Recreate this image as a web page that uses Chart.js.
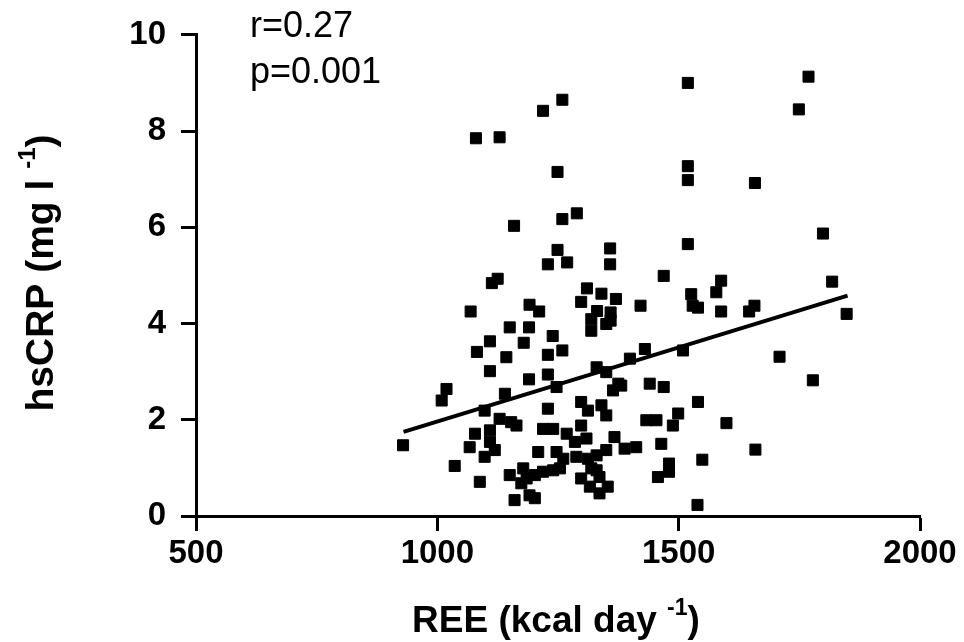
<!DOCTYPE html>
<html>
<head>
<meta charset="utf-8">
<script src="https://cdn.jsdelivr.net/npm/chart.js@4.4.1/dist/chart.umd.min.js"></script>
<style>
  html, body { margin: 0; padding: 0; background: #fff; }
  #wrap { width: 964px; height: 642px; }
</style>
</head>
<body>
<div id="wrap"><canvas id="reeChart" width="964" height="642"></canvas></div>
<script>
// REE (kcal/day) vs hsCRP (mg/l)
const reeValues = [
    1259, 1219, 1080, 1129, 1249, 1159, 1259, 1289, 1249, 1358, 1229, 1269, 1358,
    1519, 1769, 1749, 1519, 1519, 1658, 1799, 1519,
    1113, 1125, 1069, 1191, 1211, 1150, 1190, 1239, 1109, 1179, 1082, 1143, 1229,
    1259, 1109, 1190, 1229, 1019, 1009,
    1310, 1340, 1370, 1298, 1331, 1359, 1319, 1359, 1350, 1319, 1421, 1469,
    1330, 1350, 1399, 1430, 1375, 1440,
    1588, 1578, 1526, 1529, 1540, 1588, 1657, 1646, 1818, 1848, 1509, 1709, 1778, 1469,
    1140, 1098, 1229, 1247, 1298, 1312, 1340, 1350, 1364, 1381,
    1129, 1153, 1164, 1078, 1109, 1109, 1067, 1119, 1098, 1036, 1088,
    1219, 1240, 1268, 1285, 1309, 1298, 1367, 1388, 1412, 1433, 1454, 1350,
    1209, 1247, 1261, 1254, 1288, 1312, 1330, 1319, 1330, 1336, 1298, 1316, 1336, 1353,
    1150, 1178, 1185, 1202, 1219, 1240, 1160, 1191, 1202, 1174, 1457, 929,
    1499, 1488, 1599, 1659, 1549, 1480, 1480, 1539, 1540, 1464
];
const crpValues = [
    8.65, 8.42, 7.85, 7.87, 7.15, 6.03, 6.17, 6.29, 5.53, 5.56, 5.23, 5.27, 5.23,
    9.00, 9.13, 8.45, 7.27, 6.98, 6.92, 5.87, 5.65,
    4.84, 4.93, 4.25, 4.39, 4.25, 3.92, 3.92, 3.74, 3.63, 3.60, 3.41, 3.30, 3.35,
    3.44, 3.01, 2.84, 2.94, 2.64, 2.40,
    4.73, 4.62, 4.51, 4.45, 4.26, 4.23, 4.09, 4.06, 3.99, 3.85, 4.37, 4.99,
    3.09, 2.99, 3.27, 3.47, 2.75, 2.75,
    4.89, 4.65, 4.61, 4.37, 4.33, 4.25, 4.37, 4.25, 4.87, 4.20, 3.44, 3.31, 2.82, 2.68,
    2.54, 2.19, 2.23, 2.68, 2.37, 2.19, 2.30, 2.09, 2.61, 2.71,
    2.02, 1.95, 1.88, 1.71, 1.78, 1.54, 1.43, 1.37, 1.23, 1.04, 0.71,
    1.81, 1.81, 1.71, 1.54, 1.61, 1.88, 1.64, 1.40, 1.43, 1.99, 1.99, 1.37,
    1.33, 1.33, 1.19, 0.99, 1.23, 1.19, 1.26, 0.99, 0.95, 0.81, 0.78, 0.61, 0.47, 0.61,
    0.85, 0.99, 0.78, 0.85, 0.92, 0.95, 0.33, 0.43, 0.37, 0.68, 0.81, 1.47,
    2.13, 1.88, 1.93, 1.38, 1.17, 1.09, 0.92, 0.23, 2.37, 1.50
];

// regression line end points
const fitX = [930, 1850];
const fitY = [1.75, 4.58];

const xTicks = [500, 1000, 1500, 2000];
const yTicks = [0, 2, 4, 6, 8, 10];

const statLines = ['r=0.27', 'p=0.001'];

const points = reeValues.map((x, i) => ({ x: x, y: crpValues[i] }));
const fitPoints = fitX.map((x, i) => ({ x: x, y: fitY[i] }));

const FONT = 'Liberation Sans, Arial, sans-serif';
const tickFont = { family: FONT, size: 33, weight: 'bold' };

// draws "main" + raised "sup" + "end" starting at x, baseline y
function drawSupText(ctx, main, sup, end, size, x, y) {
    ctx.font = 'bold ' + size + 'px ' + FONT;
    const w1 = ctx.measureText(main).width;
    ctx.fillText(main, x, y);
    const supSize = Math.round(size * 0.62);
    ctx.font = 'bold ' + supSize + 'px ' + FONT;
    const w2 = ctx.measureText(sup).width;
    ctx.fillText(sup, x + w1, y - size * 0.45);
    ctx.font = 'bold ' + size + 'px ' + FONT;
    ctx.fillText(end, x + w1 + w2, y);
}

function supTextWidth(ctx, main, sup, end, size) {
    ctx.font = 'bold ' + size + 'px ' + FONT;
    const a = ctx.measureText(main).width + ctx.measureText(end).width;
    ctx.font = 'bold ' + Math.round(size * 0.62) + 'px ' + FONT;
    return a + ctx.measureText(sup).width;
}

// axis titles with superscripts, and the r / p note
const textPlugin = {
    id: 'textPlugin',
    afterDraw(chart) {
        const ctx = chart.ctx;
        ctx.save();
        ctx.fillStyle = '#000';
        ctx.textAlign = 'left';
        ctx.textBaseline = 'alphabetic';

        // x title
        const xw = supTextWidth(ctx, 'REE (kcal day ', '-1', ')', 37);
        drawSupText(ctx, 'REE (kcal day ', '-1', ')', 37, 556 - xw / 2, 632);

        // y title, rotated
        ctx.save();
        ctx.translate(53, 273);
        ctx.rotate(-Math.PI / 2);
        const yw = supTextWidth(ctx, 'hsCRP (mg l ', '-1', ')', 39);
        drawSupText(ctx, 'hsCRP (mg l ', '-1', ')', 39, -yw / 2, 0);
        ctx.restore();

        // stats note
        ctx.font = '36px ' + FONT;
        ctx.fillText(statLines[0], 250, 37);
        ctx.fillText(statLines[1], 250, 83);
        ctx.restore();
    }
};

const ctx = document.getElementById('reeChart').getContext('2d');
new Chart(ctx, {
    type: 'scatter',
    data: {
        datasets: [
            {
                label: 'hsCRP',
                data: points,
                pointStyle: 'rect',
                pointRadius: 7.8,
                backgroundColor: '#000',
                borderColor: '#000',
                borderWidth: 1,
                clip: false
            },
            {
                label: 'fit',
                type: 'line',
                data: fitPoints,
                borderColor: '#000',
                borderWidth: 4,
                pointRadius: 0,
                fill: false,
                clip: false
            }
        ]
    },
    options: {
        responsive: false,
        animation: false,
        events: [],
        layout: { padding: { top: 33, right: 44, left: 0, bottom: 0 } },
        plugins: {
            legend: { display: false },
            tooltip: { enabled: false },
            title: { display: false }
        },
        scales: {
            x: {
                type: 'linear',
                min: 500,
                max: 2000,
                afterFit: function(scale) { scale.height = 126; },
                afterBuildTicks: function(scale) { scale.ticks = xTicks.map(v => ({ value: v })); },
                border: { color: '#000', width: 3 },
                grid: { drawOnChartArea: false, drawTicks: true, tickLength: 15, tickWidth: 3, tickColor: '#000' },
                ticks: { color: '#000', font: tickFont, padding: 3, maxRotation: 0,
                         callback: function(v) { return String(v); } }
            },
            y: {
                type: 'linear',
                min: 0,
                max: 10,
                afterFit: function(scale) { scale.width = 196; },
                afterBuildTicks: function(scale) { scale.ticks = yTicks.map(v => ({ value: v })); },
                border: { color: '#000', width: 3 },
                grid: { drawOnChartArea: false, drawTicks: true, tickLength: 15, tickWidth: 3, tickColor: '#000' },
                ticks: { color: '#000', font: tickFont, padding: 15,
                         callback: function(v) { return String(v); } }
            }
        }
    },
    plugins: [textPlugin]
});
</script>
</body>
</html>
